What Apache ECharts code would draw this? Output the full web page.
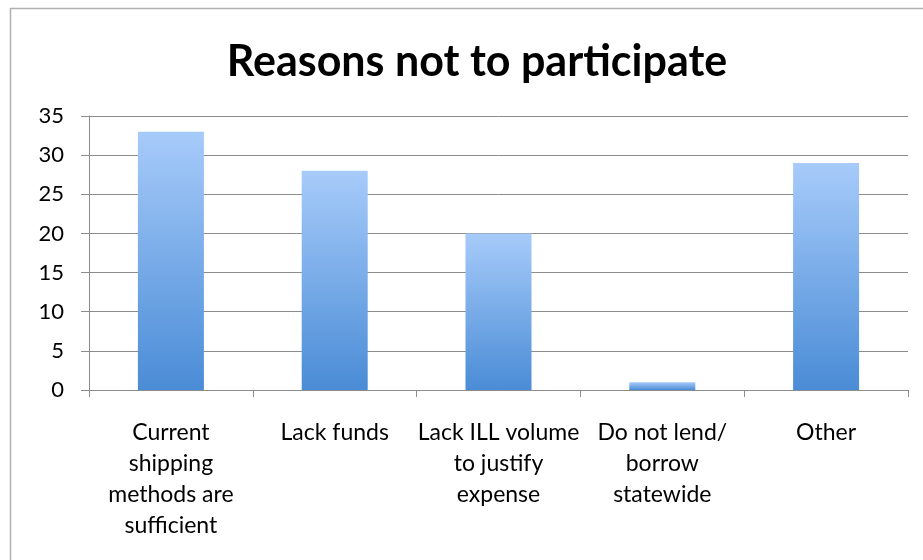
<!DOCTYPE html>
<html>
<head>
<meta charset="utf-8">
<script src="https://cdn.jsdelivr.net/npm/echarts@6/dist/echarts.min.js"></script>
<style>html,body{margin:0;padding:0;background:#fff;}#c{width:923px;height:560px;}</style>
</head>
<body>
<div id="c"></div>
<script>
const titleText = "Reasons not to participate";
const categories = [
  "Current\nshipping\nmethods are\nsufficient",
  "Lack funds",
  "Lack ILL volume\nto justify\nexpense",
  "Do not lend/\nborrow\nstatewide",
  "Other"
];
const values = [33, 28, 20, 1, 29];
const yTicks = { min: 0, max: 35, interval: 5 };

const chart = echarts.init(document.getElementById('c'), null, { renderer: 'canvas' });
const font = 'Lato, "Open Sans", sans-serif';
chart.setOption({
  backgroundColor: '#ffffff',
  animation: false,
  title: {
    text: titleText,
    left: 472,
    textAlign: 'center',
    top: 36,
    textStyle: { fontFamily: font, fontSize: 43, fontWeight: 'bold', color: '#000' }
  },
  graphic: [
    { type: 'line', shape: { x1: 10, y1: 8.5, x2: 923, y2: 8.5 }, style: { stroke: '#b0b0b0', lineWidth: 1.5 } },
    { type: 'line', shape: { x1: 10.5, y1: 8, x2: 10.5, y2: 560 }, style: { stroke: '#b0b0b0', lineWidth: 1.5 } }
  ],
  grid: { left: 89, right: 15, top: 116, bottom: 170 },
  xAxis: {
    type: 'category',
    data: categories,
    axisLine: { lineStyle: { color: '#8c8c8c', width: 1 } },
    axisTick: { show: true, alignWithLabel: false, length: 7, lineStyle: { color: '#8c8c8c' } },
    axisLabel: { fontFamily: font, fontSize: 23, color: '#000', lineHeight: 31, margin: 27, interval: 0 }
  },
  yAxis: {
    type: 'value',
    min: yTicks.min, max: yTicks.max, interval: yTicks.interval,
    axisLine: { show: true, lineStyle: { color: '#8c8c8c', width: 1 } },
    axisTick: { show: true, length: 8, lineStyle: { color: '#8c8c8c' } },
    axisLabel: { fontFamily: font, fontSize: 22, color: '#000', margin: 25 },
    splitLine: { lineStyle: { color: '#8c8c8c', width: 1 } }
  },
  series: [{
    type: 'bar',
    data: values,
    barWidth: 66,
    itemStyle: {
      color: new echarts.graphic.LinearGradient(0, 0, 0, 1, [
        { offset: 0, color: '#a7cbfa' },
        { offset: 1, color: '#4a8cd6' }
      ])
    }
  }]
});
</script>
</body>
</html>
